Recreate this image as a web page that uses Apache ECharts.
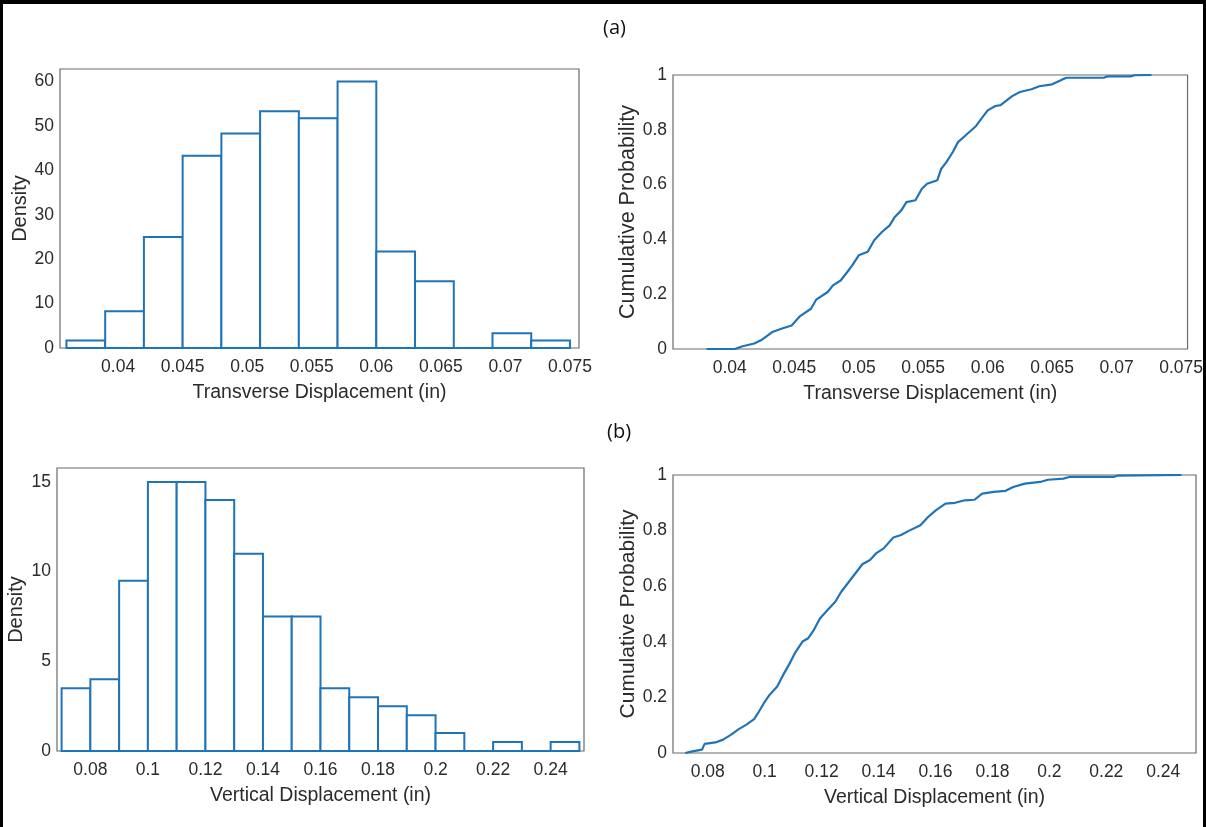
<!DOCTYPE html>
<html>
<head>
<meta charset="utf-8">
<script src="https://cdn.jsdelivr.net/npm/echarts@6/dist/echarts.min.js"></script>
<style>
  html, body { margin: 0; padding: 0; background: #fff; }
  #frame {
    position: absolute; left: 0; top: 0; width: 1200px; height: 830px;
    border-top: 4px solid #000; border-left: 3px solid #000; border-right: 3px solid #000;
  }
  #chart { position: absolute; left: 0; top: 0; width: 1206px; height: 827px; }
</style>
</head>
<body>
<div id="frame"></div>
<div id="chart"></div>
<script>
// histogram (a): transverse displacement, bin edges + density
const transEdges = [0.036, 0.039, 0.042, 0.045, 0.048, 0.051, 0.054, 0.057, 0.060, 0.063, 0.066, 0.069, 0.072, 0.075];
const transDensity = [1.7, 8.3, 25, 43.3, 48.3, 53.3, 51.7, 60, 21.7, 15, 0, 3.3, 1.7];
const transTicks = [0.04, 0.045, 0.05, 0.055, 0.06, 0.065, 0.07, 0.075];

// cdf (a)
const transCdfX = [0.0382, 0.0404, 0.041, 0.0419, 0.0425, 0.0433, 0.044, 0.0448, 0.0454, 0.0463, 0.0467, 0.0476,
  0.048, 0.0486, 0.0491, 0.0495, 0.05, 0.0507, 0.0512, 0.0518, 0.0524, 0.0528, 0.0533, 0.0537, 0.0544, 0.0549,
  0.0553, 0.0561, 0.0564, 0.0568, 0.0573, 0.0577, 0.0583, 0.0591, 0.0595, 0.06, 0.0606, 0.061, 0.0614, 0.0619,
  0.0625, 0.0634, 0.064, 0.065, 0.0658, 0.0661, 0.069, 0.0693, 0.0711, 0.0714, 0.0727];
const transCdfY = [0, 0, 0.01, 0.02, 0.034, 0.062, 0.074, 0.086, 0.118, 0.147, 0.18, 0.208,
  0.232, 0.25, 0.28, 0.305, 0.342, 0.355, 0.397, 0.427, 0.451, 0.482, 0.506, 0.536, 0.543, 0.585,
  0.603, 0.616, 0.658, 0.682, 0.719, 0.755, 0.78, 0.814, 0.84, 0.871, 0.887, 0.89, 0.905, 0.923,
  0.938, 0.948, 0.959, 0.966, 0.984, 0.99, 0.99, 0.995, 0.995, 0.999, 1.0];

// histogram (b): vertical displacement
const vertEdges = [0.07, 0.08, 0.09, 0.10, 0.11, 0.12, 0.13, 0.14, 0.15, 0.16, 0.17, 0.18, 0.19, 0.20, 0.21, 0.22, 0.23, 0.24, 0.25];
const vertDensity = [3.5, 4, 9.5, 15, 15, 14, 11, 7.5, 7.5, 3.5, 3, 2.5, 2, 1, 0, 0.5, 0, 0.5];
const vertTicks = [0.08, 0.1, 0.12, 0.14, 0.16, 0.18, 0.2, 0.22, 0.24];

// cdf (b)
const vertCdfX = [0.0721, 0.0746, 0.078, 0.0789, 0.0827, 0.0854, 0.0881, 0.0909, 0.0936, 0.0963, 0.0977, 0.0997,
  0.1017, 0.1044, 0.1065, 0.1085, 0.1106, 0.1133, 0.1153, 0.1173, 0.1194, 0.1221, 0.1248, 0.1269, 0.1296,
  0.1323, 0.1343, 0.137, 0.1391, 0.1418, 0.1452, 0.1479, 0.1506, 0.1547, 0.1574, 0.1601, 0.1635, 0.1669,
  0.1703, 0.1737, 0.1764, 0.1805, 0.1846, 0.1873, 0.1914, 0.1968, 0.1995, 0.2049, 0.207, 0.2226, 0.224, 0.2464];
const vertCdfY = [0, 0.006, 0.012, 0.033, 0.038, 0.048, 0.065, 0.086, 0.102, 0.122, 0.144, 0.179,
  0.209, 0.239, 0.281, 0.317, 0.359, 0.401, 0.413, 0.443, 0.484, 0.514, 0.544, 0.58, 0.616,
  0.652, 0.679, 0.694, 0.718, 0.736, 0.775, 0.784, 0.799, 0.819, 0.849, 0.873, 0.897, 0.9,
  0.909, 0.911, 0.933, 0.939, 0.943, 0.957, 0.969, 0.975, 0.983, 0.987, 0.993, 0.993, 0.998, 1.0];

const BLUE = '#1f74b8';
const TEXT = '#2b2b2b';
const FONT = 'Liberation Sans';

const chart = echarts.init(document.getElementById('chart'));

function xAxis(grid, min, max, ticks, name) {
  return {
    type: 'value', gridIndex: grid, min: min, max: max,
    name: name, nameLocation: 'middle', nameGap: 35,
    nameTextStyle: { color: TEXT, fontSize: 19.5, fontFamily: FONT },
    axisLine: { show: false }, axisTick: { show: false }, splitLine: { show: false },
    axisLabel: {
      customValues: ticks, color: TEXT, fontSize: 17.5, fontFamily: FONT, margin: 10,
      formatter: (v) => String(+v.toFixed(4)),
    },
  };
}

function yAxis(grid, max, ticks, name, gap, nameSize) {
  return {
    type: 'value', gridIndex: grid, min: 0, max: max,
    name: name, nameLocation: 'middle', nameGap: gap,
    nameTextStyle: { color: TEXT, fontSize: nameSize, fontFamily: FONT },
    axisLine: { show: false }, axisTick: { show: false }, splitLine: { show: false },
    axisLabel: {
      customValues: ticks, color: TEXT, fontSize: 17.5, fontFamily: FONT, margin: 6,
      formatter: (v) => String(+v.toFixed(2)),
    },
  };
}

function histSeries(edges, dens, grid) {
  return {
    type: 'custom', xAxisIndex: grid, yAxisIndex: grid,
    data: dens.map((d, i) => [edges[i], edges[i + 1], d]),
    encode: { x: [0, 1], y: 2 },
    renderItem: (params, api) => {
      const p0 = api.coord([api.value(0), 0]);
      const p1 = api.coord([api.value(1), api.value(2)]);
      return {
        type: 'rect',
        shape: { x: p0[0], y: p1[1], width: p1[0] - p0[0], height: p0[1] - p1[1] },
        style: { fill: '#fff', stroke: BLUE, lineWidth: 2 },
      };
    },
  };
}

function cdfSeries(xs, ys, grid) {
  return {
    type: 'line', xAxisIndex: grid, yAxisIndex: grid, showSymbol: false,
    data: xs.map((x, i) => [x, ys[i]]),
    lineStyle: { color: BLUE, width: 2.2 },
  };
}

const gridStyle = { show: true, borderColor: '#6b6b6b', borderWidth: 1.2, backgroundColor: 'transparent' };

chart.setOption({
  animation: false,
  title: [
    { text: '(a)', left: 598, top: 13, textStyle: { fontSize: 20, fontWeight: 'normal', color: '#111', fontFamily: 'Open Sans' } },
    { text: '(b)', left: 602, top: 417, textStyle: { fontSize: 20, fontWeight: 'normal', color: '#111', fontFamily: 'Open Sans' } },
  ],
  grid: [
    Object.assign({ left: 60, top: 69, width: 519, height: 279 }, gridStyle),
    Object.assign({ left: 673, top: 75, width: 517, height: 274 }, gridStyle),
    Object.assign({ left: 57, top: 468, width: 527, height: 283 }, gridStyle),
    Object.assign({ left: 673, top: 475, width: 523, height: 278 }, gridStyle),
  ],
  xAxis: [
    xAxis(0, 0.0355, 0.0757, transTicks, 'Transverse Displacement (in)'),
    xAxis(1, 0.0356, 0.0755, transTicks, 'Transverse Displacement (in)'),
    xAxis(2, 0.0684, 0.2516, vertTicks, 'Vertical Displacement (in)'),
    xAxis(3, 0.0678, 0.2515, vertTicks, 'Vertical Displacement (in)'),
  ],
  yAxis: [
    yAxis(0, 62.8, [0, 10, 20, 30, 40, 50, 60], 'Density', 30, 20),
    yAxis(1, 1, [0, 0.2, 0.4, 0.6, 0.8, 1], 'Cumulative Probability', 34, 21.5),
    yAxis(2, 15.78, [0, 5, 10, 15], 'Density', 31, 20),
    yAxis(3, 1, [0, 0.2, 0.4, 0.6, 0.8, 1], 'Cumulative Probability', 30, 21),
  ],
  series: [
    histSeries(transEdges, transDensity, 0),
    cdfSeries(transCdfX, transCdfY, 1),
    histSeries(vertEdges, vertDensity, 2),
    cdfSeries(vertCdfX, vertCdfY, 3),
  ],
});
</script>
</body>
</html>
